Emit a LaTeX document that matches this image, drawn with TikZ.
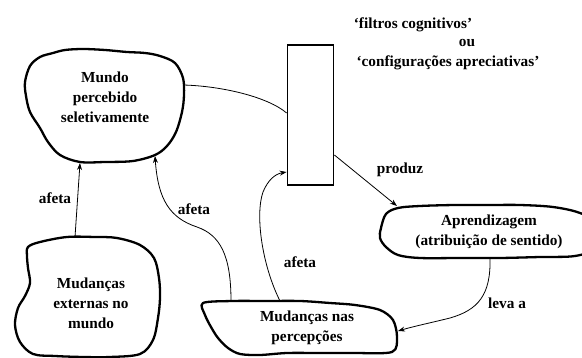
\documentclass[tikz,border=0pt]{standalone}
\usepackage{fontspec}
\setmainfont{Liberation Serif}
\usetikzlibrary{arrows.meta}
\begin{document}
\begin{tikzpicture}[x=1pt,y=-1pt,
  blob/.style={line width=2.3pt, line join=round},
  lbl/.style={font=\fontsize{15.3}{20}\selectfont\bfseries, inner sep=0pt, align=center},
  conn/.style={line width=0.8pt},
  arr/.style={conn, -{Stealth[length=7pt,width=5pt]}}]
\useasboundingbox (0,0) rectangle (582,358);
\clip (0,0) rectangle (582,358);
\fill[white] (0,0) rectangle (582,358);

% Mundo percebido seletivamente
\draw[blob] plot[smooth cycle, tension=0.55] coordinates {
  (30,66) (40,57) (53,53) (65,50) (83,49) (105,50) (127,52) (145,53) (160,56) (175,63)
  (183,78) (184,95) (182,112) (176,132) (167,146) (155,155) (133,161) (105,162) (80,162)
  (60,155) (48,142) (40,128) (30,112) (26,96) (25,82)};
\node[lbl] (mundo) at (105,97) {Mundo\\percebido\\seletivamente};

% filter rectangle
\node[draw, line width=1.8pt, minimum width=46pt, minimum height=140pt, inner sep=0pt] (filtro) at (310.5,115) {};
\node[lbl] (filt1) at (413,25) {‘filtros cognitivos’};
\node[lbl] (filt2) at (467,43) {ou};
\node[lbl] (filt3) at (448,63) {‘configurações apreciativas’};

% Aprendizagem
\draw[blob] plot[smooth cycle, tension=0.55] coordinates {
  (381,228) (386,214) (398,208) (420,206) (455,205) (490,205) (520,205) (553,207) (580,213)
  (600,225) (595,248) (575,256) (540,257) (500,258) (460,258) (420,258) (398,255) (386,247) (380,238)};
\node[lbl] (aprend) at (489,232) {Aprendizagem\\(atribuição de sentido)};

% Mudanças externas no mundo
\draw[blob] plot[smooth cycle, tension=0.55] coordinates {
  (28,247) (40,242) (67,237) (95,237) (117,238) (140,245) (154,258) (159,278) (160,298)
  (158,318) (153,340) (140,354) (110,357) (83,357) (55,356) (33,354) (20,342) (15,325)
  (18,308) (25,296) (30,283) (28,268) (27,256)};
\node[lbl] (ext) at (91,303) {Mudanças\\externas no\\mundo};

% Mudanças nas percepções
\draw[blob] plot[smooth cycle, tension=0.5] coordinates {
  (203,303) (233,301) (265,301) (300,301) (330,303) (355,305) (380,310) (393,320) (397,337)
  (392,352) (353,353) (320,353) (287,353) (260,355) (240,354) (228,348) (218,338) (211,327) (205,315)};
\node[lbl] (percep) at (307,328) {Mudanças nas\\percepções};

% connector anchors
\coordinate (extT) at (75,237);
\coordinate (mundoB1) at (80,163);
\coordinate (mundoB2) at (155,156);
\coordinate (mundoR) at (183,85);
\coordinate (percT1) at (231,301);
\coordinate (percT2) at (280,301);
\coordinate (percR) at (398,331);
\coordinate (aprT) at (397,206);
\coordinate (aprB) at (490,258);

\draw[arr] (extT) -- (mundoB1);
\draw[arr] (percT1) .. controls (231,255) and (220,235) .. (197,227)
  .. controls (170,218) and (158,200) .. (mundoB2);
\draw[arr] (percT2) .. controls (262,265) and (255,215) .. (263,192)
  .. controls (268,180) and (275,174) .. (filtro.west |- 0,172);
\draw[conn] (mundoR) .. controls (222,86) and (268,97) .. (filtro.west |- 0,113);
\draw[arr] (filtro.east |- 0,155) -- (aprT);
\draw[arr] (aprB) .. controls (491,295) and (478,310) .. (450,318)
  .. controls (430,323) and (415,326) .. (percR);

% labels
\node[lbl] (l1) at (55,198) {afeta};
\node[lbl] (l2) at (194,209) {afeta};
\node[lbl] (l3) at (300,262) {afeta};
\node[lbl] (l4) at (400,170) {produz};
\node[lbl] (l5) at (507,303) {leva a};
\end{tikzpicture}
\end{document}
